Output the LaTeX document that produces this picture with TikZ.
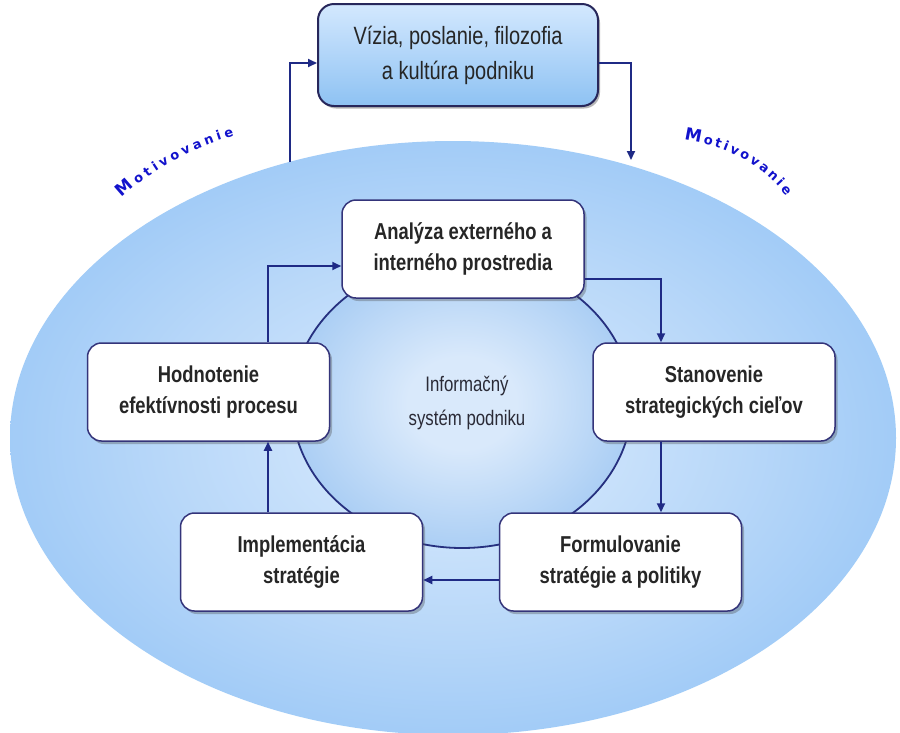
\documentclass[tikz,border=0pt]{standalone}
\usepackage{fontspec}
\setmainfont{Liberation Sans}
\newfontfamily\nar{Liberation Sans}[FakeStretch=0.8]
\newfontfamily\motfam{DejaVu Sans}
\usetikzlibrary{arrows.meta,shadows,decorations.text}
\definecolor{bgA}{HTML}{DDEDFD}
\definecolor{bgB}{HTML}{B9D8F9}
\definecolor{bgC}{HTML}{98C6F6}
\definecolor{inA}{HTML}{D9E9FB}
\definecolor{inB}{HTML}{96C2F1}
\definecolor{inLine}{HTML}{26307F}
\definecolor{boxLine}{HTML}{34347A}
\definecolor{arrCol}{HTML}{1F2A85}
\definecolor{motblue}{HTML}{1212CC}
\definecolor{topA}{HTML}{D3E8FE}
\definecolor{topB}{HTML}{8EC2F3}
\definecolor{txtGray}{HTML}{2A2A36}
\pgfdeclareradialshading{bigell}{\pgfpointorigin}{color(0bp)=(bgA); color(16bp)=(bgB); color(29bp)=(bgC); color(100bp)=(bgC)}
\pgfdeclareradialshading{innell}{\pgfpointorigin}{color(0bp)=(inA); color(8bp)=(inA); color(33bp)=(inB); color(100bp)=(inB)}
\tikzset{
  stepbox/.style={draw=boxLine, line width=1.5pt, fill=white, rounded corners=14pt,
    minimum width=242pt, minimum height=98pt, align=center, inner sep=0pt,
    font={\nar\bfseries\fontsize{23}{31}\selectfont}, text=black!85,
    drop shadow={shadow xshift=2.5pt, shadow yshift=-3pt, opacity=0.35, fill=black!70}},
  topbox/.style={draw=boxLine!75!black, line width=2pt, rounded corners=16pt,
    top color=topA, bottom color=topB, minimum width=280pt, minimum height=102pt,
    align=center, inner sep=0pt, font={\nar\fontsize{25}{35}\selectfont}, text=black!85,
    drop shadow={shadow xshift=2pt, shadow yshift=-2.5pt, opacity=0.4, fill=black!70}},
  arr/.style={draw=arrCol, line width=1.8pt, -{Triangle[length=9pt,width=8pt]}},
  motpath/.style={decorate, decoration={text along path, text align=fit to path,
    text={|\motfam\bfseries\fontsize{17}{17}\selectfont\color{motblue}|M|\motfam\bfseries\fontsize{13}{13}\selectfont\color{motblue}|otivovanie}}}
}
\begin{document}
\begin{tikzpicture}[x=1pt,y=-1pt]
\useasboundingbox (0,0) rectangle (900,732);
\clip (0,0) rectangle (900,732);
\fill[white] (0,0) rectangle (900,732);
% big ellipse
\shade[shading=bigell] (453,438) ellipse [x radius=443pt, y radius=297pt];
% inner ellipse
\shade[shading=innell, draw=inLine, line width=1.8pt] (462,403) ellipse [x radius=170pt, y radius=145pt];
\node[font={\nar\fontsize{21}{34}\selectfont}, text=txtGray, align=center] (info) at (467,403) {Informačný\\systém podniku};
% top box
\node[topbox] (viz) at (458,55) {Vízia, poslanie, filozofia\\a kultúra podniku};
% step boxes
\node[stepbox] (ana) at (463,249) {Analýza externého a\\interného prostredia};
\node[stepbox] (sta) at (714,392) {Stanovenie\\strategických cieľov};
\node[stepbox] (for) at (620.5,562) {Formulovanie\\stratégie a politiky};
\node[stepbox] (imp) at (301.5,562) {Implementácia\\stratégie};
\node[stepbox] (hod) at (208.5,392) {Hodnotenie\\efektívnosti procesu};
% motivation connectors
\coordinate (mL) at (290,162);
\coordinate (mR) at (631,160);
\draw[arr] (mL) |- ([yshift=-8pt]viz.west);
\draw[arr] ([yshift=-8pt]viz.east) -| (mR);
% cycle connectors
\draw[arr] (ana.east |- 0,279) -| (sta.north -| 661,0);
\draw[arr] (sta.south -| 661,0) -- (for.north -| 661,0);
\draw[arr] (for.west |- 0,580) -- (imp.east |- 0,580);
\draw[arr] (imp.north -| 268,0) -- (hod.south -| 268,0);
\draw[arr] (hod.north -| 268,0) |- (ana.west |- 0,266);
% Motivovanie labels
\path[motpath] (122,198) .. controls (152,170) and (190,148) .. (234,136);
\path[motpath] (684,140) .. controls (724,146) and (760,162) .. (786,196);
\end{tikzpicture}
\end{document}
